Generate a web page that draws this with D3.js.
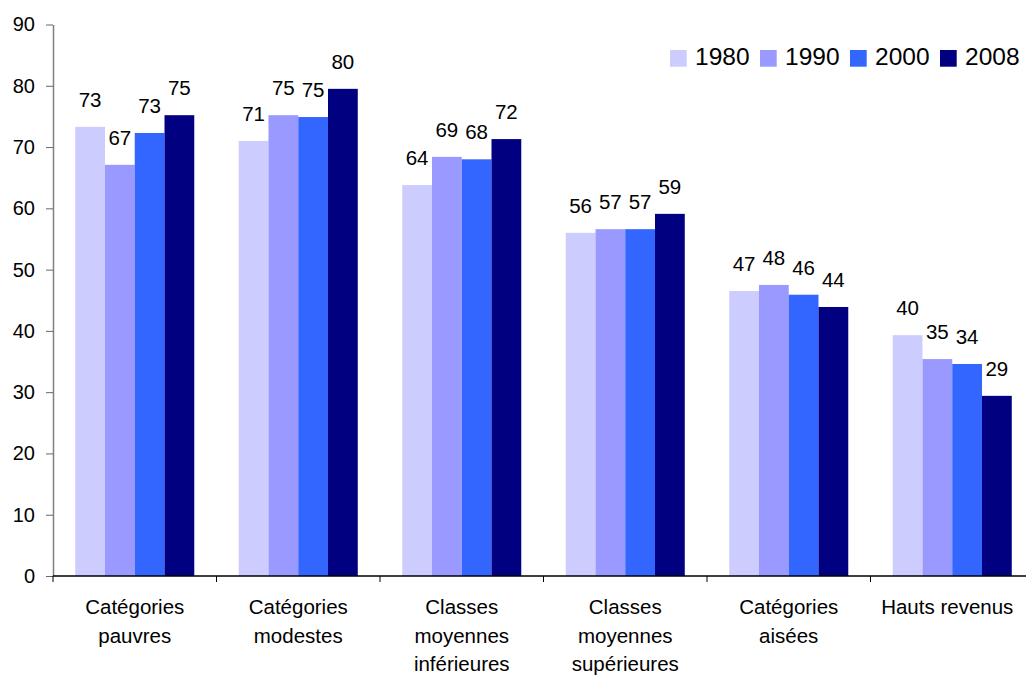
<!DOCTYPE html>
<html>
<head>
<meta charset="utf-8">
<script src="https://cdn.jsdelivr.net/npm/d3@7"></script>
<style>
  html, body { margin: 0; padding: 0; background: #fff; }
  svg { display: block; font-family: "Liberation Sans", Arial, sans-serif; }
</style>
</head>
<body>
<svg id="chart" width="1026" height="677"></svg>
<script>
const categories = [
  ["Catégories", "pauvres"],
  ["Catégories", "modestes"],
  ["Classes", "moyennes", "inférieures"],
  ["Classes", "moyennes", "supérieures"],
  ["Catégories", "aisées"],
  ["Hauts revenus"]
];
const series = ["1980", "1990", "2000", "2008"];
const colors = ["#CCCCFF", "#9999FF", "#3366FF", "#000080"];

// bar heights
const values1980 = [73.3, 71.0, 63.8, 56.0, 46.5, 39.3];
const values1990 = [67.1, 75.2, 68.4, 56.6, 47.5, 35.4];
const values2000 = [72.3, 74.9, 68.0, 56.6, 45.9, 34.6];
const values2008 = [75.2, 79.5, 71.3, 59.1, 43.9, 29.4];

// data labels as printed
const labels1980 = [73, 71, 64, 56, 47, 40];
const labels1990 = [67, 75, 69, 57, 48, 35];
const labels2000 = [73, 75, 68, 57, 46, 34];
const labels2008 = [75, 80, 72, 59, 44, 29];

const yTicks = [0, 10, 20, 30, 40, 50, 60, 70, 80, 90];

const valueSets = [values1980, values1990, values2000, values2008];
const labelSets = [labels1980, labels1990, labels2000, labels2008];

const svg = d3.select("#chart");
const catKeys = categories.map(c => c.join(" "));

const x0 = d3.scaleBand().domain(catKeys).range([53, 1034]).padding(0);
const pad = x0.bandwidth() * 0.136;
const x1 = d3.scaleBand().domain(series).range([pad, x0.bandwidth() - pad]).padding(0);
const y = d3.scaleLinear().domain([0, 90]).range([576, 24.5]);

// bars
const data = [];
catKeys.forEach((c, i) => {
  series.forEach((s, j) => {
    data.push({ cat: c, s: s, v: valueSets[j][i], label: labelSets[j][i], color: colors[j] });
  });
});

svg.append("g").selectAll("rect").data(data).join("rect")
  .attr("x", d => x0(d.cat) + x1(d.s))
  .attr("y", d => y(d.v))
  .attr("width", x1.bandwidth())
  .attr("height", d => y(0) - y(d.v))
  .attr("fill", d => d.color);

// data labels
svg.append("g").selectAll("text").data(data).join("text")
  .attr("x", d => x0(d.cat) + x1(d.s) + x1.bandwidth() / 2)
  .attr("y", d => y(d.v) - 20)
  .attr("text-anchor", "middle")
  .attr("font-size", "20.5px")
  .attr("fill", "#000")
  .text(d => d.label);

// y axis
const yAxis = svg.append("g")
  .attr("transform", "translate(53,0)")
  .call(d3.axisLeft(y).tickValues(yTicks).tickSize(7).tickPadding(11).tickSizeOuter(0));
yAxis.select(".domain").attr("stroke", "#808080").attr("stroke-width", 1.5);
yAxis.selectAll(".tick line").attr("stroke", "#666");
yAxis.selectAll(".tick text").attr("font-size", "20px").attr("fill", "#000")
  .attr("font-family", "'Liberation Sans', Arial, sans-serif");

// x axis
const xTickPositions = catKeys.map(c => x0(c));
const xAxisG = svg.append("g");
xAxisG.append("line").attr("x1", 53).attr("x2", 1034).attr("y1", y(0)).attr("y2", y(0))
  .attr("stroke", "#000").attr("stroke-width", 1.5);
xAxisG.selectAll("line.tk").data(xTickPositions).join("line").attr("class", "tk")
  .attr("x1", d => d).attr("x2", d => d)
  .attr("y1", y(0)).attr("y2", y(0) + 6)
  .attr("stroke", "#000");

// category labels
const catG = svg.append("g");
categories.forEach((lines, i) => {
  const cx = x0(catKeys[i]) + x0.bandwidth() / 2 - (i === 5 ? 5 : 0);
  const t = catG.append("text")
    .attr("x", cx)
    .attr("y", 614)
    .attr("text-anchor", "middle")
    .attr("font-size", "20.5px")
    .attr("fill", "#000");
  lines.forEach((ln, k) => {
    t.append("tspan").attr("x", cx).attr("y", 614 + k * 28.5).text(ln);
  });
});

// legend
const legend = svg.append("g");
series.forEach((s, j) => {
  const lx = 670 + j * 90;
  legend.append("rect").attr("x", lx).attr("y", 50).attr("width", 16.7).attr("height", 16.7)
    .attr("fill", colors[j]);
  legend.append("text").attr("x", lx + 25).attr("y", 64.5)
    .attr("font-size", "24.5px").attr("fill", "#000").text(s);
});
</script>
</body>
</html>
